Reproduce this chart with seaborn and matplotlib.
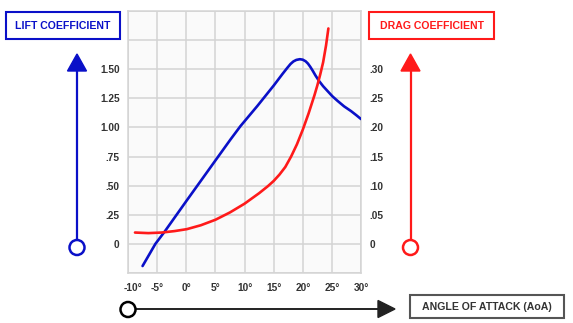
import matplotlib
matplotlib.use("Agg")
import matplotlib.pyplot as plt
import seaborn as sns
import pandas as pd
from matplotlib.patches import Rectangle, Circle, Polygon
from matplotlib.transforms import ScaledTranslation

# ---- data ----
lift_aoa = [-7.5, -5.3, -3.7, 0, 5, 7.6, 9.3, 12.2, 15.05, 16.5, 17.35, 17.9,
            18.4, 18.9, 19.5, 20.0, 20.5, 20.9, 21.3, 21.7, 22.2, 22.8, 23.5,
            24.25, 25.1, 26, 27.1, 28.3, 29.2, 30]
lift_cl = [-0.19, 0.0, 0.106, 0.367, 0.716, 0.897, 1.011, 1.184, 1.362, 1.458,
           1.512, 1.545, 1.567, 1.580, 1.586, 1.582, 1.568, 1.548, 1.520, 1.488,
           1.445, 1.399, 1.354, 1.313, 1.267, 1.227, 1.181, 1.140, 1.105, 1.072]

drag_aoa = [-8.8, -6.5, -4.2, -2, 0.1, 2.5, 5, 7.5, 10, 12.5, 14, 15, 16, 17, 18,
            19, 20, 21, 22, 22.5, 23, 23.5, 24, 24.4]
drag_cd = [0.0195, 0.0185, 0.0195, 0.022, 0.0253, 0.032, 0.0414, 0.054, 0.069,
           0.087, 0.099, 0.108, 0.119, 0.132, 0.150, 0.171, 0.196, 0.224, 0.255,
           0.272, 0.291, 0.312, 0.341, 0.370]

x_ticks = [-10, -5, 0, 5, 10, 15, 20, 25, 30]
x_tick_labels = ["-10°", "-5°", "0°", "5°", "10°", "15°", "20°", "25°", "30°"]
lift_ticks = [-0.25, 0, 0.25, 0.5, 0.75, 1.0, 1.25, 1.5, 1.75, 2.0]
lift_tick_labels = ["", "0", ".25", ".50", ".75", "1.00", "1.25", "1.50", "", ""]
drag_ticks = [0, 0.05, 0.10, 0.15, 0.20, 0.25, 0.30]
drag_tick_labels = ["0", ".05", ".10", ".15", ".20", ".25", ".30"]

lift_title = "LIFT COEFFICIENT"
drag_title = "DRAG COEFFICIENT"
x_title = "ANGLE OF ATTACK (AoA)"

BLUE = "#0a10c8"
RED = "#ff1a1a"
DARK = "#222222"
TXT = "#333333"

sns.set_style("white")
plt.rcParams['font.family'] = ['Liberation Sans', 'DejaVu Sans']

W, H = 573, 323
fig = plt.figure(figsize=(W / 100, H / 100), dpi=100)

L, R, T, B = 128, 361, 11, 273
ax = fig.add_axes([L / W, (H - B) / H, (R - L) / W, (B - T) / H])
ax.set_facecolor("#fafafa")

lift_df = pd.DataFrame({"aoa": lift_aoa, "cl": lift_cl})
drag_df = pd.DataFrame({"aoa": drag_aoa, "cd": drag_cd})

sns.lineplot(data=lift_df, x="aoa", y="cl", ax=ax, color=BLUE, linewidth=1.9, zorder=3)
ax.set_xlim(-10, 30)
ax.set_ylim(-0.25, 2.0)
ax.set_xticks(x_ticks)
ax.set_xticklabels(x_tick_labels)
ax.set_yticks(lift_ticks)
ax.set_yticklabels(lift_tick_labels)
ax.grid(True, color="#d4d4d4", linewidth=1.1)
ax.set_axisbelow(True)
ax.set_xlabel("")
ax.set_ylabel("")
for s in ax.spines.values():
    s.set_color("#d4d4d4")
    s.set_linewidth(1.1)
ax.tick_params(axis="both", length=0, labelsize=7.3, labelcolor=TXT)
ax.tick_params(axis="y", pad=6)
ax.tick_params(axis="x", pad=7)
for lab in ax.get_xticklabels() + ax.get_yticklabels():
    lab.set_fontweight("bold")
xl = ax.get_xticklabels()
xl[0].set_transform(xl[0].get_transform() + ScaledTranslation(5 / 100, 0, fig.dpi_scale_trans))

ax2 = ax.twinx()
sns.lineplot(data=drag_df, x="aoa", y="cd", ax=ax2, color=RED, linewidth=1.9, zorder=3)
ax2.set_ylim(-0.05, 0.40)
ax2.set_yticks(drag_ticks)
ax2.set_yticklabels(drag_tick_labels)
ax2.set_ylabel("")
ax2.grid(False)
for s in ax2.spines.values():
    s.set_visible(False)
ax2.tick_params(axis="y", length=0, labelsize=7.3, labelcolor=TXT, pad=6)
for lab in ax2.get_yticklabels():
    lab.set_fontweight("bold")

# ---- overlay in pixel coordinates ----
ov = fig.add_axes([0, 0, 1, 1], facecolor="none")
ov.set_xlim(0, W)
ov.set_ylim(H, 0)
ov.axis("off")

def box(x0, y0, x1, y1, text, color, tcolor):
    ov.add_patch(Rectangle((x0, y0), x1 - x0, y1 - y0, fill=False, edgecolor=color, linewidth=1.5))
    ov.text((x0 + x1) / 2, (y0 + y1) / 2 + 0.5, text, ha="center", va="center",
            fontsize=7.6, fontweight="bold", color=tcolor)

box(6, 12, 120, 39, lift_title, BLUE, BLUE)
box(369, 12, 494, 39, drag_title, RED, RED)
box(410, 295, 564, 318, x_title, "#555555", TXT)

def vert_arrow(x, color):
    ov.plot([x, x], [240, 70], color=color, linewidth=1.6, solid_capstyle="butt")
    ov.add_patch(Polygon([[x - 9.5, 71], [x + 9.5, 71], [x, 54]], closed=True, color=color))
    ov.add_patch(Circle((x, 247.5), 7.5, facecolor="white", edgecolor=color, linewidth=1.8, zorder=5))

vert_arrow(77, BLUE)
vert_arrow(410.5, RED)

ov.plot([128, 380], [309, 309], color=DARK, linewidth=1.4)
ov.add_patch(Polygon([[378, 300.5], [378, 317.5], [395, 309]], closed=True, color=DARK))
ov.add_patch(Circle((128, 309.5), 7.5, facecolor="white", edgecolor="black", linewidth=1.8, zorder=5))

fig.savefig("out.png", dpi=100)
